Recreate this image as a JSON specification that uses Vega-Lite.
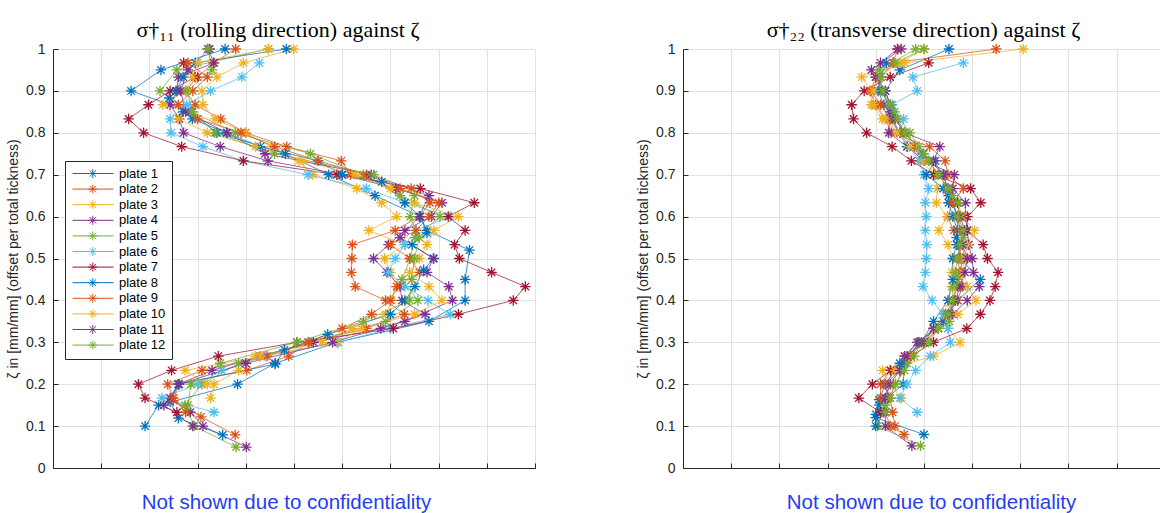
{
"$schema":"https://vega.github.io/schema/vega-lite/v6.json",
"padding":{"left":6,"top":19,"right":0,"bottom":0},
"background":"white",
"config":{"view":{"stroke":null},"font":"Liberation Sans",
"axis":{"gridColor":"#E2E2E2","gridWidth":1,"domainColor":"#262626","tickColor":"#262626","labelColor":"#262626","labelFont":"Liberation Sans","labelFontSize":14,"titleFont":"Liberation Sans","titleFontWeight":"normal","titleColor":"#262626"},
"title":{"font":"Liberation Serif","fontSize":22,"fontWeight":"normal","color":"#000000"}},
"datasets":{
"L":[
{"plate":"plate 1","z":1.0,"s":3.57},{"plate":"plate 1","z":0.95,"s":2.24},{"plate":"plate 1","z":0.9,"s":1.62},{"plate":"plate 1","z":0.85,"s":2.85},{"plate":"plate 1","z":0.8,"s":3.4},{"plate":"plate 1","z":0.75,"s":4.82},{"plate":"plate 1","z":0.7,"s":5.72},{"plate":"plate 1","z":0.65,"s":6.68},{"plate":"plate 1","z":0.6,"s":7.62},{"plate":"plate 1","z":0.567,"s":7.76},{"plate":"plate 1","z":0.52,"s":8.64},{"plate":"plate 1","z":0.45,"s":8.55},{"plate":"plate 1","z":0.4,"s":8.55},{"plate":"plate 1","z":0.35,"s":7.8},{"plate":"plate 1","z":0.3,"s":5.9},{"plate":"plate 1","z":0.25,"s":4.61},{"plate":"plate 1","z":0.2,"s":3.83},{"plate":"plate 1","z":0.15,"s":2.19},{"plate":"plate 1","z":0.1,"s":1.91},
{"plate":"plate 2","z":1.0,"s":3.79},{"plate":"plate 2","z":0.967,"s":3.33},{"plate":"plate 2","z":0.933,"s":3.0},{"plate":"plate 2","z":0.9,"s":2.75},{"plate":"plate 2","z":0.867,"s":2.95},{"plate":"plate 2","z":0.833,"s":3.48},{"plate":"plate 2","z":0.8,"s":4.0},{"plate":"plate 2","z":0.767,"s":4.85},{"plate":"plate 2","z":0.733,"s":5.98},{"plate":"plate 2","z":0.7,"s":6.17},{"plate":"plate 2","z":0.667,"s":7.43},{"plate":"plate 2","z":0.633,"s":7.82},{"plate":"plate 2","z":0.6,"s":7.6},{"plate":"plate 2","z":0.567,"s":7.1},{"plate":"plate 2","z":0.533,"s":6.21},{"plate":"plate 2","z":0.5,"s":6.2},{"plate":"plate 2","z":0.467,"s":6.19},{"plate":"plate 2","z":0.433,"s":6.27},{"plate":"plate 2","z":0.4,"s":6.9},{"plate":"plate 2","z":0.367,"s":7.29},{"plate":"plate 2","z":0.333,"s":6.5},{"plate":"plate 2","z":0.3,"s":5.3},{"plate":"plate 2","z":0.267,"s":4.89},{"plate":"plate 2","z":0.233,"s":4.02},{"plate":"plate 2","z":0.2,"s":2.6},{"plate":"plate 2","z":0.161,"s":2.5},{"plate":"plate 2","z":0.122,"s":3.07},{"plate":"plate 2","z":0.079,"s":3.78},
{"plate":"plate 3","z":1.0,"s":4.99},{"plate":"plate 3","z":0.967,"s":3.95},{"plate":"plate 3","z":0.933,"s":3.4},{"plate":"plate 3","z":0.9,"s":3.09},{"plate":"plate 3","z":0.867,"s":3.11},{"plate":"plate 3","z":0.833,"s":3.36},{"plate":"plate 3","z":0.8,"s":3.99},{"plate":"plate 3","z":0.767,"s":4.53},{"plate":"plate 3","z":0.733,"s":5.1},{"plate":"plate 3","z":0.7,"s":5.39},{"plate":"plate 3","z":0.667,"s":6.3},{"plate":"plate 3","z":0.633,"s":6.82},{"plate":"plate 3","z":0.6,"s":7.13},{"plate":"plate 3","z":0.567,"s":6.55},{"plate":"plate 3","z":0.533,"s":7.3},{"plate":"plate 3","z":0.5,"s":6.88},{"plate":"plate 3","z":0.467,"s":7.0},{"plate":"plate 3","z":0.433,"s":7.13},{"plate":"plate 3","z":0.4,"s":7.03},{"plate":"plate 3","z":0.367,"s":6.9},{"plate":"plate 3","z":0.333,"s":6.2},{"plate":"plate 3","z":0.3,"s":5.58},{"plate":"plate 3","z":0.267,"s":4.2},{"plate":"plate 3","z":0.233,"s":3.85},{"plate":"plate 3","z":0.2,"s":3.34},{"plate":"plate 3","z":0.167,"s":3.27},
{"plate":"plate 4","z":1.0,"s":3.21},{"plate":"plate 4","z":0.967,"s":3.34},{"plate":"plate 4","z":0.933,"s":2.6},{"plate":"plate 4","z":0.9,"s":2.57},{"plate":"plate 4","z":0.867,"s":2.43},{"plate":"plate 4","z":0.833,"s":2.62},{"plate":"plate 4","z":0.8,"s":2.71},{"plate":"plate 4","z":0.767,"s":3.47},{"plate":"plate 4","z":0.733,"s":4.46},{"plate":"plate 4","z":0.7,"s":6.0},{"plate":"plate 4","z":0.667,"s":7.11},{"plate":"plate 4","z":0.633,"s":8.07},{"plate":"plate 4","z":0.6,"s":7.85},{"plate":"plate 4","z":0.567,"s":7.3},{"plate":"plate 4","z":0.533,"s":6.96},{"plate":"plate 4","z":0.5,"s":6.65},{"plate":"plate 4","z":0.467,"s":6.93},{"plate":"plate 4","z":0.433,"s":7.2},{"plate":"plate 4","z":0.4,"s":7.24},{"plate":"plate 4","z":0.367,"s":7.72},{"plate":"plate 4","z":0.333,"s":6.8},{"plate":"plate 4","z":0.3,"s":5.4},{"plate":"plate 4","z":0.267,"s":4.3},{"plate":"plate 4","z":0.233,"s":3.3},{"plate":"plate 4","z":0.2,"s":2.6},{"plate":"plate 4","z":0.167,"s":2.43},{"plate":"plate 4","z":0.133,"s":2.85},{"plate":"plate 4","z":0.1,"s":3.11},{"plate":"plate 4","z":0.05,"s":4.01},
{"plate":"plate 5","z":1.0,"s":4.47},{"plate":"plate 5","z":0.95,"s":2.57},{"plate":"plate 5","z":0.9,"s":2.22},{"plate":"plate 5","z":0.85,"s":2.88},{"plate":"plate 5","z":0.8,"s":3.78},{"plate":"plate 5","z":0.75,"s":5.34},{"plate":"plate 5","z":0.7,"s":6.44},{"plate":"plate 5","z":0.65,"s":7.2},{"plate":"plate 5","z":0.6,"s":8.03},{"plate":"plate 5","z":0.55,"s":7.51},{"plate":"plate 5","z":0.5,"s":7.41},{"plate":"plate 5","z":0.45,"s":7.24},{"plate":"plate 5","z":0.4,"s":7.57},{"plate":"plate 5","z":0.35,"s":6.9},{"plate":"plate 5","z":0.3,"s":5.3},{"plate":"plate 5","z":0.25,"s":3.85},{"plate":"plate 5","z":0.2,"s":3.09},{"plate":"plate 5","z":0.15,"s":2.74},{"plate":"plate 5","z":0.1,"s":2.93},{"plate":"plate 5","z":0.05,"s":3.8},
{"plate":"plate 6","z":0.967,"s":4.28},{"plate":"plate 6","z":0.933,"s":3.92},{"plate":"plate 6","z":0.9,"s":3.27},{"plate":"plate 6","z":0.867,"s":2.78},{"plate":"plate 6","z":0.833,"s":2.43},{"plate":"plate 6","z":0.8,"s":2.45},{"plate":"plate 6","z":0.767,"s":3.11},{"plate":"plate 6","z":0.733,"s":3.95},{"plate":"plate 6","z":0.7,"s":5.29},{"plate":"plate 6","z":0.667,"s":6.5},{"plate":"plate 6","z":0.633,"s":7.3},{"plate":"plate 6","z":0.6,"s":8.24},{"plate":"plate 6","z":0.567,"s":7.53},{"plate":"plate 6","z":0.533,"s":7.3},{"plate":"plate 6","z":0.5,"s":7.1},{"plate":"plate 6","z":0.467,"s":6.96},{"plate":"plate 6","z":0.433,"s":7.3},{"plate":"plate 6","z":0.4,"s":7.78},{"plate":"plate 6","z":0.367,"s":8.24},{"plate":"plate 6","z":0.333,"s":7.0},{"plate":"plate 6","z":0.3,"s":5.92},{"plate":"plate 6","z":0.267,"s":4.4},{"plate":"plate 6","z":0.233,"s":3.5},{"plate":"plate 6","z":0.2,"s":3.0},{"plate":"plate 6","z":0.167,"s":2.26},{"plate":"plate 6","z":0.133,"s":3.34},
{"plate":"plate 7","z":0.967,"s":2.71},{"plate":"plate 7","z":0.933,"s":2.95},{"plate":"plate 7","z":0.9,"s":2.43},{"plate":"plate 7","z":0.867,"s":1.98},{"plate":"plate 7","z":0.833,"s":1.57},{"plate":"plate 7","z":0.8,"s":1.88},{"plate":"plate 7","z":0.767,"s":2.67},{"plate":"plate 7","z":0.733,"s":3.95},{"plate":"plate 7","z":0.7,"s":5.89},{"plate":"plate 7","z":0.667,"s":7.62},{"plate":"plate 7","z":0.633,"s":8.74},{"plate":"plate 7","z":0.6,"s":8.2},{"plate":"plate 7","z":0.567,"s":8.55},{"plate":"plate 7","z":0.533,"s":8.33},{"plate":"plate 7","z":0.5,"s":8.43},{"plate":"plate 7","z":0.467,"s":9.1},{"plate":"plate 7","z":0.433,"s":9.8},{"plate":"plate 7","z":0.4,"s":9.55},{"plate":"plate 7","z":0.367,"s":8.41},{"plate":"plate 7","z":0.333,"s":7.06},{"plate":"plate 7","z":0.3,"s":5.06},{"plate":"plate 7","z":0.267,"s":3.43},{"plate":"plate 7","z":0.233,"s":2.46},{"plate":"plate 7","z":0.2,"s":1.77},{"plate":"plate 7","z":0.167,"s":1.91},{"plate":"plate 7","z":0.133,"s":2.57},
{"plate":"plate 8","z":1.0,"s":4.84},{"plate":"plate 8","z":0.967,"s":2.95},{"plate":"plate 8","z":0.933,"s":2.7},{"plate":"plate 8","z":0.9,"s":2.55},{"plate":"plate 8","z":0.883,"s":2.41},{"plate":"plate 8","z":0.85,"s":2.7},{"plate":"plate 8","z":0.833,"s":2.89},{"plate":"plate 8","z":0.8,"s":3.6},{"plate":"plate 8","z":0.767,"s":4.3},{"plate":"plate 8","z":0.733,"s":5.5},{"plate":"plate 8","z":0.7,"s":6.0},{"plate":"plate 8","z":0.683,"s":6.82},{"plate":"plate 8","z":0.633,"s":7.3},{"plate":"plate 8","z":0.6,"s":7.62},{"plate":"plate 8","z":0.561,"s":7.76},{"plate":"plate 8","z":0.533,"s":7.45},{"plate":"plate 8","z":0.5,"s":7.9},{"plate":"plate 8","z":0.473,"s":7.69},{"plate":"plate 8","z":0.433,"s":7.51},{"plate":"plate 8","z":0.4,"s":7.3},{"plate":"plate 8","z":0.367,"s":7.0},{"plate":"plate 8","z":0.319,"s":5.7},{"plate":"plate 8","z":0.282,"s":4.8},{"plate":"plate 8","z":0.248,"s":4.61},{"plate":"plate 8","z":0.2,"s":2.6},{"plate":"plate 8","z":0.158,"s":2.43},{"plate":"plate 8","z":0.119,"s":2.6},{"plate":"plate 8","z":0.079,"s":3.52},
{"plate":"plate 9","z":0.967,"s":2.8},{"plate":"plate 9","z":0.933,"s":3.2},{"plate":"plate 9","z":0.9,"s":2.9},{"plate":"plate 9","z":0.867,"s":2.6},{"plate":"plate 9","z":0.833,"s":3.0},{"plate":"plate 9","z":0.8,"s":3.9},{"plate":"plate 9","z":0.767,"s":4.6},{"plate":"plate 9","z":0.733,"s":5.5},{"plate":"plate 9","z":0.7,"s":6.5},{"plate":"plate 9","z":0.667,"s":7.2},{"plate":"plate 9","z":0.633,"s":8.0},{"plate":"plate 9","z":0.6,"s":7.8},{"plate":"plate 9","z":0.567,"s":7.53},{"plate":"plate 9","z":0.533,"s":7.0},{"plate":"plate 9","z":0.5,"s":7.4},{"plate":"plate 9","z":0.467,"s":7.6},{"plate":"plate 9","z":0.433,"s":7.13},{"plate":"plate 9","z":0.4,"s":7.0},{"plate":"plate 9","z":0.367,"s":6.61},{"plate":"plate 9","z":0.333,"s":6.0},{"plate":"plate 9","z":0.3,"s":5.3},{"plate":"plate 9","z":0.267,"s":4.44},{"plate":"plate 9","z":0.233,"s":3.09},{"plate":"plate 9","z":0.2,"s":2.38},{"plate":"plate 9","z":0.167,"s":2.5},{"plate":"plate 9","z":0.133,"s":2.75},
{"plate":"plate 10","z":1.0,"s":4.47},{"plate":"plate 10","z":0.967,"s":3.0},{"plate":"plate 10","z":0.933,"s":2.9},{"plate":"plate 10","z":0.9,"s":2.75},{"plate":"plate 10","z":0.867,"s":2.28},{"plate":"plate 10","z":0.833,"s":2.6},{"plate":"plate 10","z":0.8,"s":3.2},{"plate":"plate 10","z":0.767,"s":4.2},{"plate":"plate 10","z":0.733,"s":5.2},{"plate":"plate 10","z":0.7,"s":6.27},{"plate":"plate 10","z":0.667,"s":7.0},{"plate":"plate 10","z":0.633,"s":7.5},{"plate":"plate 10","z":0.6,"s":8.41},{"plate":"plate 10","z":0.567,"s":7.9},{"plate":"plate 10","z":0.533,"s":7.76},{"plate":"plate 10","z":0.5,"s":7.6},{"plate":"plate 10","z":0.467,"s":7.4},{"plate":"plate 10","z":0.433,"s":7.8},{"plate":"plate 10","z":0.4,"s":8.07},{"plate":"plate 10","z":0.367,"s":7.5},{"plate":"plate 10","z":0.333,"s":6.4},{"plate":"plate 10","z":0.3,"s":5.9},{"plate":"plate 10","z":0.267,"s":4.3},{"plate":"plate 10","z":0.233,"s":2.74},{"plate":"plate 10","z":0.2,"s":3.2},
{"plate":"plate 11","z":1.0,"s":3.25},{"plate":"plate 11","z":0.95,"s":2.8},{"plate":"plate 11","z":0.9,"s":2.65},{"plate":"plate 11","z":0.85,"s":2.75},{"plate":"plate 11","z":0.8,"s":3.61},{"plate":"plate 11","z":0.75,"s":4.4},{"plate":"plate 11","z":0.7,"s":6.6},{"plate":"plate 11","z":0.65,"s":7.8},{"plate":"plate 11","z":0.6,"s":7.6},{"plate":"plate 11","z":0.55,"s":7.2},{"plate":"plate 11","z":0.5,"s":7.89},{"plate":"plate 11","z":0.467,"s":7.76},{"plate":"plate 11","z":0.433,"s":8.21},{"plate":"plate 11","z":0.4,"s":8.29},{"plate":"plate 11","z":0.35,"s":7.3},{"plate":"plate 11","z":0.3,"s":5.8},{"plate":"plate 11","z":0.25,"s":4.0},{"plate":"plate 11","z":0.2,"s":2.62},{"plate":"plate 11","z":0.15,"s":2.3},{"plate":"plate 11","z":0.1,"s":2.9},
{"plate":"plate 12","z":1.0,"s":3.21},{"plate":"plate 12","z":0.95,"s":3.3},{"plate":"plate 12","z":0.9,"s":2.78},{"plate":"plate 12","z":0.85,"s":2.9},{"plate":"plate 12","z":0.8,"s":3.36},{"plate":"plate 12","z":0.75,"s":4.6},{"plate":"plate 12","z":0.7,"s":6.65},{"plate":"plate 12","z":0.65,"s":7.5},{"plate":"plate 12","z":0.6,"s":7.41},{"plate":"plate 12","z":0.55,"s":7.6},{"plate":"plate 12","z":0.5,"s":7.5},{"plate":"plate 12","z":0.45,"s":7.44},{"plate":"plate 12","z":0.4,"s":7.4},{"plate":"plate 12","z":0.35,"s":6.44},{"plate":"plate 12","z":0.3,"s":5.06},{"plate":"plate 12","z":0.25,"s":3.47},{"plate":"plate 12","z":0.2,"s":2.86},{"plate":"plate 12","z":0.15,"s":2.8}
],
"R":[
{"plate":"plate 1","z":1.0,"s":5.52},{"plate":"plate 1","z":0.95,"s":4.5},{"plate":"plate 1","z":0.9,"s":4.2},{"plate":"plate 1","z":0.85,"s":4.34},{"plate":"plate 1","z":0.8,"s":4.6},{"plate":"plate 1","z":0.75,"s":4.98},{"plate":"plate 1","z":0.7,"s":5.41},{"plate":"plate 1","z":0.65,"s":5.51},{"plate":"plate 1","z":0.6,"s":5.7},{"plate":"plate 1","z":0.55,"s":5.68},{"plate":"plate 1","z":0.5,"s":5.75},{"plate":"plate 1","z":0.45,"s":6.17},{"plate":"plate 1","z":0.4,"s":5.7},{"plate":"plate 1","z":0.35,"s":5.4},{"plate":"plate 1","z":0.3,"s":4.9},{"plate":"plate 1","z":0.25,"s":4.6},{"plate":"plate 1","z":0.2,"s":4.57},{"plate":"plate 1","z":0.15,"s":4.07},{"plate":"plate 1","z":0.12,"s":4.0},{"plate":"plate 1","z":0.08,"s":5.0},
{"plate":"plate 2","z":1.0,"s":6.5},{"plate":"plate 2","z":0.967,"s":4.36},{"plate":"plate 2","z":0.933,"s":4.1},{"plate":"plate 2","z":0.9,"s":3.88},{"plate":"plate 2","z":0.867,"s":4.0},{"plate":"plate 2","z":0.833,"s":4.2},{"plate":"plate 2","z":0.8,"s":4.32},{"plate":"plate 2","z":0.767,"s":5.12},{"plate":"plate 2","z":0.733,"s":5.44},{"plate":"plate 2","z":0.7,"s":5.5},{"plate":"plate 2","z":0.667,"s":5.82},{"plate":"plate 2","z":0.633,"s":5.6},{"plate":"plate 2","z":0.6,"s":5.49},{"plate":"plate 2","z":0.567,"s":5.62},{"plate":"plate 2","z":0.533,"s":5.7},{"plate":"plate 2","z":0.5,"s":5.8},{"plate":"plate 2","z":0.467,"s":5.75},{"plate":"plate 2","z":0.433,"s":5.7},{"plate":"plate 2","z":0.4,"s":5.6},{"plate":"plate 2","z":0.367,"s":5.45},{"plate":"plate 2","z":0.333,"s":5.2},{"plate":"plate 2","z":0.3,"s":4.9},{"plate":"plate 2","z":0.267,"s":4.6},{"plate":"plate 2","z":0.233,"s":4.3},{"plate":"plate 2","z":0.2,"s":4.1},{"plate":"plate 2","z":0.167,"s":4.1},{"plate":"plate 2","z":0.133,"s":4.2},{"plate":"plate 2","z":0.1,"s":4.3},{"plate":"plate 2","z":0.08,"s":4.59},
{"plate":"plate 3","z":1.0,"s":7.06},{"plate":"plate 3","z":0.967,"s":4.6},{"plate":"plate 3","z":0.933,"s":3.71},{"plate":"plate 3","z":0.9,"s":3.9},{"plate":"plate 3","z":0.867,"s":3.91},{"plate":"plate 3","z":0.833,"s":4.14},{"plate":"plate 3","z":0.8,"s":4.57},{"plate":"plate 3","z":0.767,"s":4.8},{"plate":"plate 3","z":0.733,"s":4.93},{"plate":"plate 3","z":0.7,"s":5.22},{"plate":"plate 3","z":0.667,"s":5.28},{"plate":"plate 3","z":0.633,"s":5.26},{"plate":"plate 3","z":0.6,"s":5.49},{"plate":"plate 3","z":0.567,"s":5.31},{"plate":"plate 3","z":0.533,"s":5.5},{"plate":"plate 3","z":0.5,"s":5.6},{"plate":"plate 3","z":0.467,"s":5.58},{"plate":"plate 3","z":0.433,"s":5.58},{"plate":"plate 3","z":0.4,"s":5.51},{"plate":"plate 3","z":0.367,"s":5.41},{"plate":"plate 3","z":0.333,"s":5.5},{"plate":"plate 3","z":0.3,"s":5.75},{"plate":"plate 3","z":0.267,"s":5.2},{"plate":"plate 3","z":0.233,"s":4.14},{"plate":"plate 3","z":0.2,"s":4.3},{"plate":"plate 3","z":0.167,"s":4.53},
{"plate":"plate 4","z":1.0,"s":4.53},{"plate":"plate 4","z":0.95,"s":3.91},{"plate":"plate 4","z":0.9,"s":4.14},{"plate":"plate 4","z":0.85,"s":4.3},{"plate":"plate 4","z":0.8,"s":4.27},{"plate":"plate 4","z":0.767,"s":4.65},{"plate":"plate 4","z":0.733,"s":5.0},{"plate":"plate 4","z":0.7,"s":5.63},{"plate":"plate 4","z":0.667,"s":5.6},{"plate":"plate 4","z":0.633,"s":5.86},{"plate":"plate 4","z":0.6,"s":5.86},{"plate":"plate 4","z":0.567,"s":5.9},{"plate":"plate 4","z":0.533,"s":5.93},{"plate":"plate 4","z":0.5,"s":6.0},{"plate":"plate 4","z":0.467,"s":6.03},{"plate":"plate 4","z":0.433,"s":6.15},{"plate":"plate 4","z":0.4,"s":5.9},{"plate":"plate 4","z":0.367,"s":5.6},{"plate":"plate 4","z":0.333,"s":5.3},{"plate":"plate 4","z":0.3,"s":4.86},{"plate":"plate 4","z":0.267,"s":4.6},{"plate":"plate 4","z":0.233,"s":4.5},{"plate":"plate 4","z":0.2,"s":4.2},{"plate":"plate 4","z":0.167,"s":4.25},{"plate":"plate 4","z":0.133,"s":4.2},{"plate":"plate 4","z":0.1,"s":4.2},{"plate":"plate 4","z":0.053,"s":4.75},
{"plate":"plate 5","z":1.0,"s":4.83},{"plate":"plate 5","z":0.95,"s":4.07},{"plate":"plate 5","z":0.9,"s":4.1},{"plate":"plate 5","z":0.85,"s":4.39},{"plate":"plate 5","z":0.8,"s":4.71},{"plate":"plate 5","z":0.75,"s":5.0},{"plate":"plate 5","z":0.7,"s":5.3},{"plate":"plate 5","z":0.65,"s":5.6},{"plate":"plate 5","z":0.6,"s":5.68},{"plate":"plate 5","z":0.55,"s":5.82},{"plate":"plate 5","z":0.5,"s":5.82},{"plate":"plate 5","z":0.45,"s":5.7},{"plate":"plate 5","z":0.4,"s":5.6},{"plate":"plate 5","z":0.35,"s":5.53},{"plate":"plate 5","z":0.3,"s":5.0},{"plate":"plate 5","z":0.25,"s":4.65},{"plate":"plate 5","z":0.2,"s":4.41},{"plate":"plate 5","z":0.15,"s":4.2},{"plate":"plate 5","z":0.1,"s":4.04},{"plate":"plate 5","z":0.053,"s":4.93},
{"plate":"plate 6","z":0.967,"s":5.82},{"plate":"plate 6","z":0.933,"s":4.77},{"plate":"plate 6","z":0.9,"s":4.86},{"plate":"plate 6","z":0.867,"s":4.34},{"plate":"plate 6","z":0.833,"s":4.58},{"plate":"plate 6","z":0.8,"s":4.5},{"plate":"plate 6","z":0.767,"s":4.7},{"plate":"plate 6","z":0.733,"s":4.9},{"plate":"plate 6","z":0.7,"s":5.0},{"plate":"plate 6","z":0.667,"s":5.1},{"plate":"plate 6","z":0.633,"s":5.03},{"plate":"plate 6","z":0.6,"s":5.05},{"plate":"plate 6","z":0.567,"s":5.03},{"plate":"plate 6","z":0.533,"s":5.06},{"plate":"plate 6","z":0.5,"s":5.05},{"plate":"plate 6","z":0.467,"s":5.03},{"plate":"plate 6","z":0.433,"s":4.98},{"plate":"plate 6","z":0.4,"s":5.17},{"plate":"plate 6","z":0.367,"s":5.4},{"plate":"plate 6","z":0.333,"s":5.5},{"plate":"plate 6","z":0.3,"s":5.55},{"plate":"plate 6","z":0.267,"s":5.13},{"plate":"plate 6","z":0.233,"s":4.83},{"plate":"plate 6","z":0.2,"s":4.65},{"plate":"plate 6","z":0.167,"s":4.5},{"plate":"plate 6","z":0.133,"s":4.86},
{"plate":"plate 7","z":0.967,"s":5.1},{"plate":"plate 7","z":0.933,"s":4.3},{"plate":"plate 7","z":0.9,"s":3.76},{"plate":"plate 7","z":0.867,"s":3.5},{"plate":"plate 7","z":0.833,"s":3.54},{"plate":"plate 7","z":0.8,"s":3.81},{"plate":"plate 7","z":0.767,"s":4.34},{"plate":"plate 7","z":0.733,"s":4.74},{"plate":"plate 7","z":0.7,"s":5.2},{"plate":"plate 7","z":0.667,"s":5.97},{"plate":"plate 7","z":0.633,"s":6.18},{"plate":"plate 7","z":0.6,"s":5.9},{"plate":"plate 7","z":0.567,"s":5.9},{"plate":"plate 7","z":0.533,"s":6.23},{"plate":"plate 7","z":0.5,"s":6.32},{"plate":"plate 7","z":0.467,"s":6.54},{"plate":"plate 7","z":0.433,"s":6.48},{"plate":"plate 7","z":0.4,"s":6.37},{"plate":"plate 7","z":0.367,"s":6.17},{"plate":"plate 7","z":0.333,"s":5.89},{"plate":"plate 7","z":0.3,"s":5.2},{"plate":"plate 7","z":0.267,"s":4.73},{"plate":"plate 7","z":0.233,"s":4.31},{"plate":"plate 7","z":0.2,"s":3.93},{"plate":"plate 7","z":0.167,"s":3.65},{"plate":"plate 7","z":0.133,"s":4.1},
{"plate":"plate 8","z":0.967,"s":4.22},{"plate":"plate 8","z":0.933,"s":4.1},{"plate":"plate 8","z":0.9,"s":4.05},{"plate":"plate 8","z":0.867,"s":4.17},{"plate":"plate 8","z":0.833,"s":4.34},{"plate":"plate 8","z":0.8,"s":4.5},{"plate":"plate 8","z":0.767,"s":4.65},{"plate":"plate 8","z":0.733,"s":5.24},{"plate":"plate 8","z":0.7,"s":5.05},{"plate":"plate 8","z":0.667,"s":5.4},{"plate":"plate 8","z":0.633,"s":5.51},{"plate":"plate 8","z":0.6,"s":5.6},{"plate":"plate 8","z":0.567,"s":5.7},{"plate":"plate 8","z":0.533,"s":5.68},{"plate":"plate 8","z":0.5,"s":5.6},{"plate":"plate 8","z":0.45,"s":5.6},{"plate":"plate 8","z":0.4,"s":5.5},{"plate":"plate 8","z":0.35,"s":5.2},{"plate":"plate 8","z":0.3,"s":4.95},{"plate":"plate 8","z":0.25,"s":4.5},{"plate":"plate 8","z":0.2,"s":4.2},{"plate":"plate 8","z":0.163,"s":4.07},{"plate":"plate 8","z":0.128,"s":4.0},{"plate":"plate 8","z":0.1,"s":4.0},
{"plate":"plate 9","z":1.0,"s":4.46},{"plate":"plate 9","z":0.967,"s":4.36},{"plate":"plate 9","z":0.933,"s":4.0},{"plate":"plate 9","z":0.9,"s":3.9},{"plate":"plate 9","z":0.867,"s":4.1},{"plate":"plate 9","z":0.833,"s":4.3},{"plate":"plate 9","z":0.8,"s":4.5},{"plate":"plate 9","z":0.767,"s":4.8},{"plate":"plate 9","z":0.733,"s":5.1},{"plate":"plate 9","z":0.7,"s":5.3},{"plate":"plate 9","z":0.667,"s":5.51},{"plate":"plate 9","z":0.633,"s":5.6},{"plate":"plate 9","z":0.6,"s":5.7},{"plate":"plate 9","z":0.567,"s":5.75},{"plate":"plate 9","z":0.533,"s":5.8},{"plate":"plate 9","z":0.5,"s":5.7},{"plate":"plate 9","z":0.467,"s":5.75},{"plate":"plate 9","z":0.433,"s":5.8},{"plate":"plate 9","z":0.4,"s":5.7},{"plate":"plate 9","z":0.367,"s":5.5},{"plate":"plate 9","z":0.333,"s":5.3},{"plate":"plate 9","z":0.3,"s":5.0},{"plate":"plate 9","z":0.267,"s":4.7},{"plate":"plate 9","z":0.233,"s":4.4},{"plate":"plate 9","z":0.2,"s":4.2},{"plate":"plate 9","z":0.167,"s":4.3},{"plate":"plate 9","z":0.133,"s":4.35},{"plate":"plate 9","z":0.1,"s":4.4},
{"plate":"plate 10","z":1.0,"s":5.0},{"plate":"plate 10","z":0.967,"s":4.5},{"plate":"plate 10","z":0.933,"s":4.03},{"plate":"plate 10","z":0.9,"s":3.95},{"plate":"plate 10","z":0.867,"s":3.95},{"plate":"plate 10","z":0.833,"s":4.2},{"plate":"plate 10","z":0.8,"s":4.45},{"plate":"plate 10","z":0.767,"s":4.7},{"plate":"plate 10","z":0.733,"s":5.0},{"plate":"plate 10","z":0.7,"s":5.3},{"plate":"plate 10","z":0.667,"s":5.5},{"plate":"plate 10","z":0.633,"s":5.7},{"plate":"plate 10","z":0.6,"s":5.8},{"plate":"plate 10","z":0.567,"s":6.05},{"plate":"plate 10","z":0.533,"s":5.9},{"plate":"plate 10","z":0.5,"s":5.85},{"plate":"plate 10","z":0.467,"s":5.8},{"plate":"plate 10","z":0.433,"s":5.9},{"plate":"plate 10","z":0.4,"s":6.08},{"plate":"plate 10","z":0.367,"s":5.7},{"plate":"plate 10","z":0.333,"s":5.3},{"plate":"plate 10","z":0.3,"s":5.0},{"plate":"plate 10","z":0.267,"s":4.7},{"plate":"plate 10","z":0.233,"s":4.4},{"plate":"plate 10","z":0.2,"s":4.35},
{"plate":"plate 11","z":1.0,"s":4.45},{"plate":"plate 11","z":0.967,"s":4.1},{"plate":"plate 11","z":0.933,"s":4.0},{"plate":"plate 11","z":0.9,"s":4.2},{"plate":"plate 11","z":0.867,"s":4.3},{"plate":"plate 11","z":0.833,"s":4.4},{"plate":"plate 11","z":0.8,"s":4.6},{"plate":"plate 11","z":0.767,"s":5.33},{"plate":"plate 11","z":0.733,"s":5.2},{"plate":"plate 11","z":0.7,"s":5.4},{"plate":"plate 11","z":0.667,"s":5.5},{"plate":"plate 11","z":0.633,"s":5.7},{"plate":"plate 11","z":0.6,"s":5.75},{"plate":"plate 11","z":0.567,"s":5.85},{"plate":"plate 11","z":0.533,"s":5.8},{"plate":"plate 11","z":0.5,"s":5.9},{"plate":"plate 11","z":0.467,"s":5.85},{"plate":"plate 11","z":0.433,"s":5.75},{"plate":"plate 11","z":0.4,"s":5.65},{"plate":"plate 11","z":0.367,"s":5.5},{"plate":"plate 11","z":0.333,"s":5.2},{"plate":"plate 11","z":0.3,"s":5.0},{"plate":"plate 11","z":0.267,"s":4.65},{"plate":"plate 11","z":0.233,"s":4.5},{"plate":"plate 11","z":0.2,"s":4.3},{"plate":"plate 11","z":0.167,"s":4.2},{"plate":"plate 11","z":0.133,"s":4.15},
{"plate":"plate 12","z":1.0,"s":5.0},{"plate":"plate 12","z":0.967,"s":4.4},{"plate":"plate 12","z":0.933,"s":4.1},{"plate":"plate 12","z":0.9,"s":4.15},{"plate":"plate 12","z":0.867,"s":4.3},{"plate":"plate 12","z":0.833,"s":4.45},{"plate":"plate 12","z":0.8,"s":4.6},{"plate":"plate 12","z":0.767,"s":4.9},{"plate":"plate 12","z":0.733,"s":5.1},{"plate":"plate 12","z":0.7,"s":5.3},{"plate":"plate 12","z":0.667,"s":5.5},{"plate":"plate 12","z":0.633,"s":5.72},{"plate":"plate 12","z":0.6,"s":5.7},{"plate":"plate 12","z":0.567,"s":5.82},{"plate":"plate 12","z":0.533,"s":5.75},{"plate":"plate 12","z":0.5,"s":5.7},{"plate":"plate 12","z":0.467,"s":5.65},{"plate":"plate 12","z":0.433,"s":5.6},{"plate":"plate 12","z":0.4,"s":5.6},{"plate":"plate 12","z":0.367,"s":5.5},{"plate":"plate 12","z":0.333,"s":5.3},{"plate":"plate 12","z":0.3,"s":5.1},{"plate":"plate 12","z":0.267,"s":4.8},{"plate":"plate 12","z":0.233,"s":4.6},{"plate":"plate 12","z":0.2,"s":4.41},{"plate":"plate 12","z":0.167,"s":4.3},{"plate":"plate 12","z":0.133,"s":4.2}
]},
"spacing":100,
"resolve":{"scale":{"color":"independent","x":"independent","y":"independent"},"legend":{"color":"independent"}},
"hconcat":[
{"width":482,"height":419,
"title":{"text":"σ†₁₁ (rolling direction) against ζ","dx":-16,"offset":-1,"frame":"group","anchor":"middle"},
"data":{"name":"L"},
"encoding":{
"x":{"field":"s","type":"quantitative","scale":{"domain":[0,10],"nice":false,"zero":false},"axis":{"values":[0,1,2,3,4,5,6,7,8,9,10],"labels":false,"tickSize":-5,"title":"Not shown due to confidentiality","titleColor":"#1f3ef2","titleFontSize":20.5,"titleX":233,"titleY":40,"titleBaseline":"alphabetic","titleAlign":"center"}},
"y":{"field":"z","type":"quantitative","scale":{"domain":[0,1],"nice":false},"axis":{"values":[0,0.1,0.2,0.3,0.4,0.5,0.6,0.7,0.8,0.9,1],"format":".1~f","tickSize":-5,"labelPadding":13,"title":"ζ in [mm/mm] (offset per total tickness)","titleFontSize":14,"titlePadding":5}},
"color":{"field":"plate","type":"nominal","scale":{"domain":["plate 1","plate 2","plate 3","plate 4","plate 5","plate 6","plate 7","plate 8","plate 9","plate 10","plate 11","plate 12"],"range":["#0072BD","#D95319","#EDB120","#7E2F8E","#77AC30","#4DBEEE","#A2142F","#0072BD","#D95319","#EDB120","#7E2F8E","#77AC30"]},
"legend":{"orient":"none","legendX":12,"legendY":112,"title":null,"symbolType":"M-1,0L7.2,0M3.06,-0.9L3.06,0.9M2.16,0L3.96,0M2.42,-0.64L3.7,0.64M2.42,0.64L3.7,-0.64","symbolSize":100,"symbolStrokeWidth":1,"symbolOpacity":1,"labelFontSize":13,"labelFont":"Liberation Sans","labelColor":"#000000","labelOffset":35,"strokeColor":"#262626","fillColor":"white","padding":6,"rowPadding":1.6,"cornerRadius":0}},
"order":{"field":"z","type":"quantitative"}},
"layer":[
{"mark":{"type":"line","strokeWidth":1,"opacity":0.75}},
{"mark":{"type":"point","shape":"M0,-1L0,1M-1,0L1,0M-0.71,-0.71L0.71,0.71M-0.71,0.71L0.71,-0.71","size":110,"strokeWidth":1.3,"filled":false,"opacity":1}}
]},
{"width":477,"height":419,
"title":{"text":"σ†₂₂ (transverse direction) against ζ","dx":2,"offset":-1,"frame":"group","anchor":"middle"},
"data":{"name":"R"},
"encoding":{
"x":{"field":"s","type":"quantitative","scale":{"domain":[0,9.9],"nice":false,"zero":false},"axis":{"values":[0,1,2,3,4,5,6,7,8,9],"labels":false,"tickSize":-5,"title":"Not shown due to confidentiality","titleColor":"#1f3ef2","titleFontSize":20.5,"titleX":248,"titleY":40,"titleBaseline":"alphabetic","titleAlign":"center"}},
"y":{"field":"z","type":"quantitative","scale":{"domain":[0,1],"nice":false},"axis":{"values":[0,0.1,0.2,0.3,0.4,0.5,0.6,0.7,0.8,0.9,1],"format":".1~f","tickSize":-5,"labelPadding":13,"title":"ζ in [mm/mm] (offset per total tickness)","titleFontSize":14,"titlePadding":5}},
"color":{"field":"plate","type":"nominal","scale":{"domain":["plate 1","plate 2","plate 3","plate 4","plate 5","plate 6","plate 7","plate 8","plate 9","plate 10","plate 11","plate 12"],"range":["#0072BD","#D95319","#EDB120","#7E2F8E","#77AC30","#4DBEEE","#A2142F","#0072BD","#D95319","#EDB120","#7E2F8E","#77AC30"]},"legend":null},
"order":{"field":"z","type":"quantitative"}},
"layer":[
{"mark":{"type":"line","strokeWidth":1,"opacity":0.75}},
{"mark":{"type":"point","shape":"M0,-1L0,1M-1,0L1,0M-0.71,-0.71L0.71,0.71M-0.71,0.71L0.71,-0.71","size":110,"strokeWidth":1.3,"filled":false,"opacity":1}}
]}
]
}
